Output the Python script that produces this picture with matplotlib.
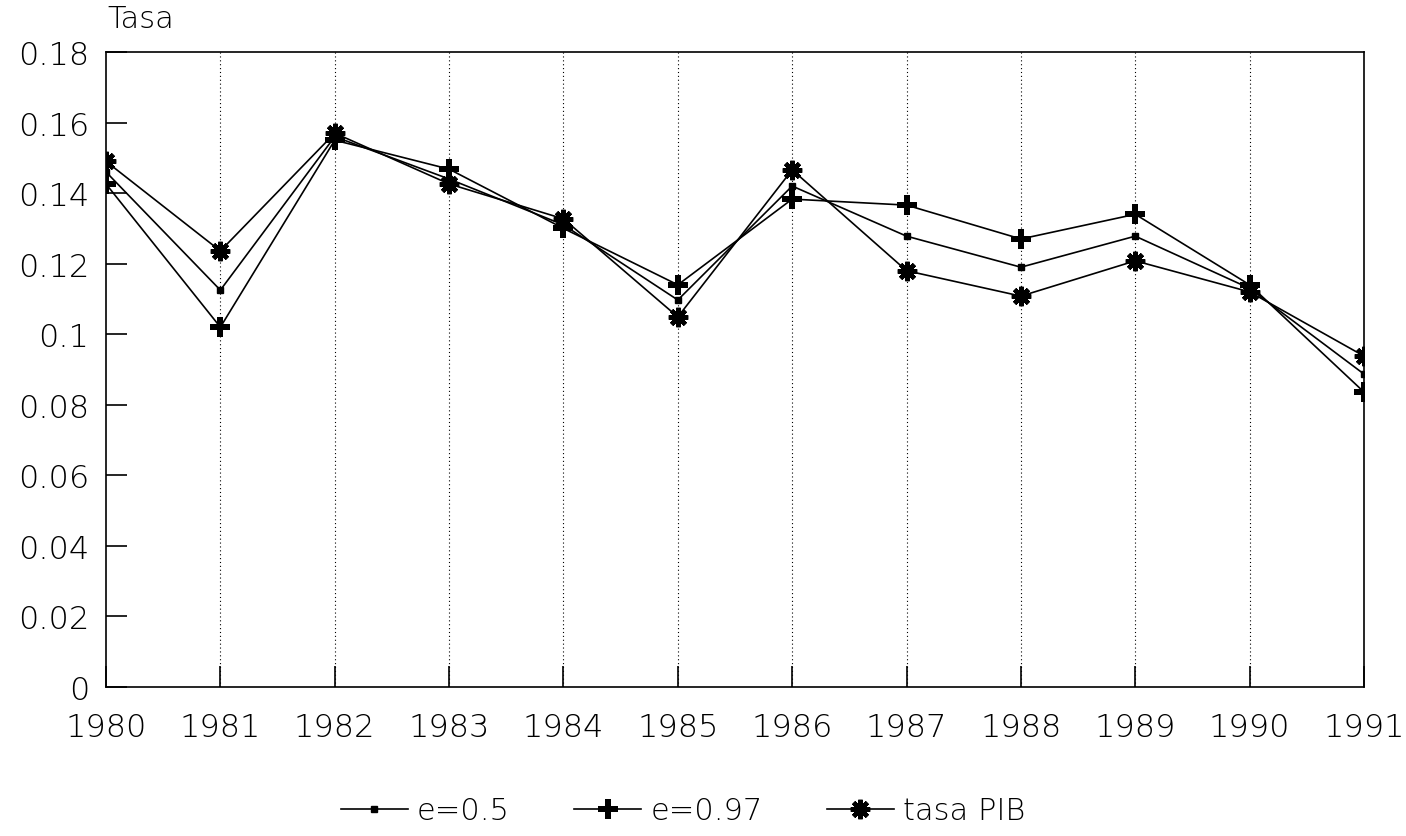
import matplotlib
matplotlib.use("Agg")
import matplotlib.pyplot as plt
from matplotlib.lines import Line2D

years = [1980, 1981, 1982, 1983, 1984, 1985, 1986, 1987, 1988, 1989, 1990, 1991]
e05 = [0.146, 0.1125, 0.156, 0.144, 0.131, 0.1097, 0.142, 0.1278, 0.119, 0.1278, 0.113, 0.0887]
e097 = [0.1426, 0.102, 0.155, 0.1468, 0.130, 0.114, 0.1383, 0.1366, 0.127, 0.134, 0.114, 0.0836]
pib = [0.149, 0.1236, 0.157, 0.1426, 0.1327, 0.1049, 0.1466, 0.118, 0.1108, 0.1208, 0.112, 0.0938]
yticks = [0, 0.02, 0.04, 0.06, 0.08, 0.1, 0.12, 0.14, 0.16, 0.18]
ytick_labels = ["0", "0.02", "0.04", "0.06", "0.08", "0.1", "0.12", "0.14", "0.16", "0.18"]
series_labels = ['e=0.5', 'e=0.97', 'tasa PIB']

plt.rcParams['font.family'] = ['DejaVu Sans']
fw = 'light'

fig = plt.figure(figsize=(14.06, 8.37), dpi=100)
ax = fig.add_axes([106/1406, 1 - 688/837, (1364-106)/1406, (688-53)/837])

ax.plot(years, e05, color='black', lw=1.2, marker='s', ms=4, zorder=3)
ax.plot(years, e097, color='black', lw=1.2, marker='P', ms=15, mew=0, zorder=3)
ax.plot(years, pib, color='black', lw=1.2, marker=(8, 2, 0), ms=14, mew=3.2, zorder=3)

ax.set_xlim(1980, 1991)
ax.set_ylim(0, 0.18)
ax.set_xticks(years)
ax.set_xticklabels([str(y) for y in years], fontweight=fw)
ax.set_yticks(yticks)
ax.set_yticklabels(ytick_labels, fontweight=fw)
for y in years[1:-1]:
    ax.axvline(y, color='black', lw=0.8, ls=(0, (1, 2.5)), zorder=1)

ax.tick_params(axis='both', direction='in', length=15, width=1.2, labelsize=23, colors='black')
ax.tick_params(axis='y', pad=12)
ax.tick_params(axis='x', pad=18)
for s in ax.spines.values():
    s.set_linewidth(1.2)
    s.set_color('black')

fig.text(107/1406, 1 - 20/837, "Tasa", fontsize=22, ha='left', va='center', fontweight=fw)

handles = [
    Line2D([], [], color='black', lw=1.2, marker='s', ms=4),
    Line2D([], [], color='black', lw=1.2, marker='P', ms=15, mew=0),
    Line2D([], [], color='black', lw=1.2, marker=(8, 2, 0), ms=14, mew=3.2),
]
fig.legend(handles, series_labels, loc='center', bbox_to_anchor=(683/1406, 1 - 812/837),
           ncol=3, frameon=False, prop={'size': 22, 'weight': fw},
           handlelength=2.2, columnspacing=2.1, handletextpad=0.3)

fig.savefig("out.png", dpi=100)
